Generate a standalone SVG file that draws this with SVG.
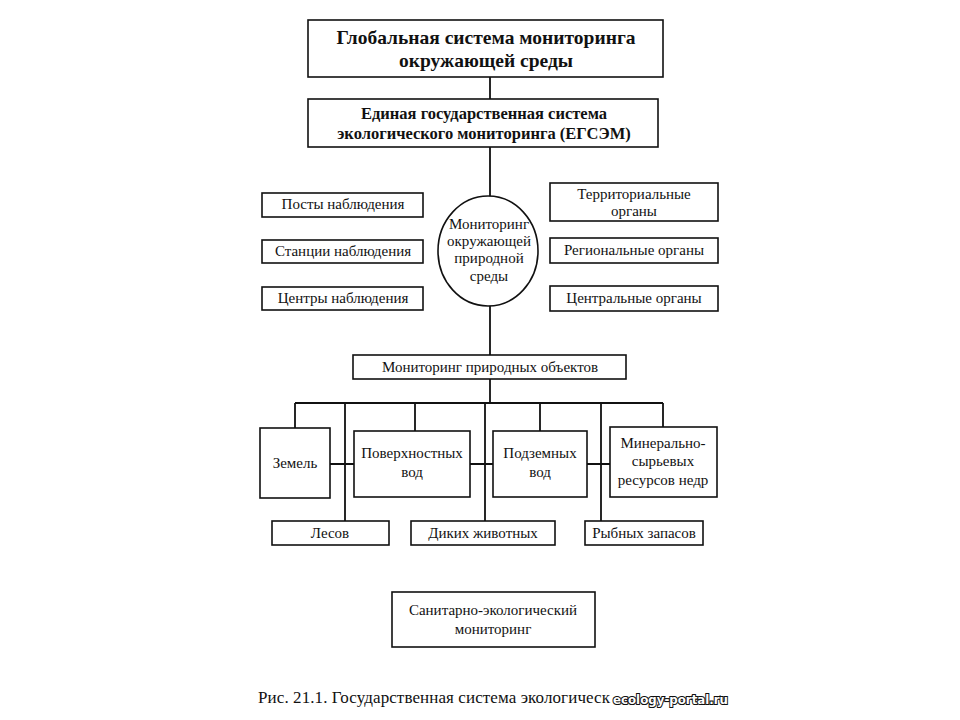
<svg xmlns="http://www.w3.org/2000/svg" width="960" height="720" viewBox="0 0 960 720">
<style>
.box{fill:#fff;stroke:#111;stroke-width:1.6}
.ln{stroke:#111;stroke-width:1.8;fill:none}
text{font-family:"Liberation Serif","Times New Roman",serif;fill:#111;text-anchor:middle}
.b1{font-size:19.5px;font-weight:bold}
.b2{font-size:16.5px;font-weight:bold}
.t{font-size:15px}
.cap{font-size:17px;text-anchor:start}
.wm{font-family:"DejaVu Sans",sans-serif;font-size:13px;font-weight:bold;fill:#fff;stroke:#111;stroke-width:2.2;paint-order:stroke;text-anchor:start}
</style>
<rect width="960" height="720" fill="#fff"/>
<g id="connectors">
<path class="ln" d="M490 77V99M490 147V197M490 305V355M490 379V403M295 403H663M295 403V428M345 403V521M415 403V431M485 403V521M540 403V431M601 403V521M663 403V427M330 464H354M470 464H493M587 464H610"/>
</g>
<g id="global"><rect class="box" x="308" y="20" width="355" height="57"/><text class="b1" x="486" y="44">Глобальная система мониторинга</text><text class="b1" x="486" y="67">окружающей среды</text></g>
<g id="egsem"><rect class="box" x="308" y="99" width="350" height="48"/><text class="b2" x="484" y="119">Единая государственная система</text><text class="b2" x="484" y="139">экологического мониторинга (ЕГСЭМ)</text></g>
<g id="posts"><rect class="box" x="262" y="193" width="161" height="24"/><text class="t" x="343" y="209">Посты наблюдения</text></g>
<g id="stations"><rect class="box" x="262" y="240" width="161" height="23"/><text class="t" x="343" y="256">Станции наблюдения</text></g>
<g id="centers"><rect class="box" x="262" y="287" width="161" height="23"/><text class="t" x="343" y="303">Центры наблюдения</text></g>
<g id="env"><ellipse class="box" cx="488" cy="251" rx="50" ry="55"/><text class="t" x="489" y="229">Мониторинг</text><text class="t" x="489" y="246">окружающей</text><text class="t" x="489" y="263">природной</text><text class="t" x="489" y="281">среды</text></g>
<g id="territorial"><rect class="box" x="550" y="183" width="168" height="38"/><text class="t" x="634" y="199">Территориальные</text><text class="t" x="634" y="216">органы</text></g>
<g id="regional"><rect class="box" x="550" y="238" width="168" height="25"/><text class="t" x="634" y="255">Региональные органы</text></g>
<g id="central"><rect class="box" x="550" y="286" width="168" height="25"/><text class="t" x="634" y="303">Центральные органы</text></g>
<g id="objects"><rect class="box" x="353" y="355" width="273" height="24"/><text class="t" x="490" y="372">Мониторинг природных объектов</text></g>
<g id="lands"><rect class="box" x="260" y="428" width="70" height="70"/><text class="t" x="295" y="468">Земель</text></g>
<g id="surface"><rect class="box" x="354" y="431" width="116" height="66"/><text class="t" x="412" y="458">Поверхностных</text><text class="t" x="412" y="477">вод</text></g>
<g id="underground"><rect class="box" x="493" y="431" width="94" height="66"/><text class="t" x="540" y="458">Подземных</text><text class="t" x="540" y="477">вод</text></g>
<g id="mineral"><rect class="box" x="610" y="427" width="107" height="70"/><text class="t" x="663" y="448">Минерально-</text><text class="t" x="663" y="466">сырьевых</text><text class="t" x="663" y="485">ресурсов недр</text></g>
<g id="forests"><rect class="box" x="272" y="521" width="117" height="24"/><text class="t" x="330" y="538">Лесов</text></g>
<g id="wild"><rect class="box" x="411" y="521" width="144" height="24"/><text class="t" x="483" y="538">Диких животных</text></g>
<g id="fish"><rect class="box" x="585" y="521" width="118" height="24"/><text class="t" x="644" y="538">Рыбных запасов</text></g>
<g id="sanitary"><rect class="box" x="392" y="592" width="203" height="55"/><text class="t" x="493" y="615">Санитарно-экологический</text><text class="t" x="493" y="634">мониторинг</text></g>
<g id="caption"><text class="cap" x="258" y="703" textLength="352" lengthAdjust="spacing">Рис. 21.1. Государственная система экологическ</text><text class="wm" x="613" y="704" textLength="115" lengthAdjust="spacingAndGlyphs">ecology-portal.ru</text></g>
</svg>
